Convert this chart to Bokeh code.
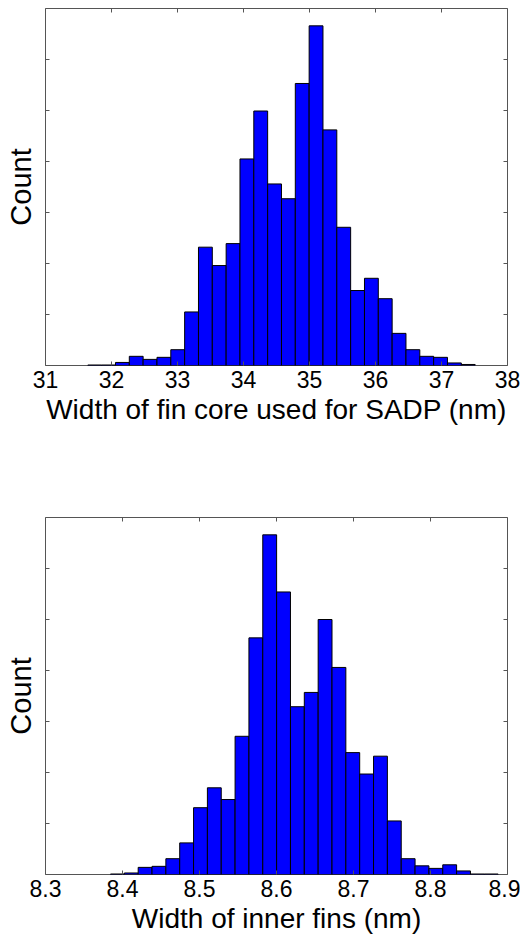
import math
from bokeh.plotting import figure
from bokeh.layouts import column
from bokeh.models import FixedTicker, Range1d
from bokeh.embed import file_html
from bokeh.resources import INLINE

# ---- data: panel 1 (width of fin core used for SADP) ----
core_bin_start = 31.641
core_bin_width = 0.2096
core_counts = [1, 1, 6, 18, 12, 16, 31, 105, 232, 196, 239, 405, 499, 356,
               327, 553, 666, 462, 271, 147, 171, 131, 63, 31, 18, 16, 5, 2]
core_xticks = [31, 32, 33, 34, 35, 36, 37, 38]
core_xtick_labels = ["31", "32", "33", "34", "35", "36", "37", "38"]

# ---- data: panel 2 (width of inner fins) ----
inner_bin_start = 8.3844
inner_bin_width = 0.01798
inner_counts = [1, 3, 14, 16, 31, 62, 131, 170, 147, 271, 464, 666, 554, 329,
                357, 500, 406, 239, 197, 232, 105, 31, 17, 12, 19, 7, 1, 1]
inner_xticks = [8.3, 8.4, 8.5, 8.6, 8.7, 8.8, 8.9]
inner_xtick_labels = ["8.3", "8.4", "8.5", "8.6", "8.7", "8.8", "8.9"]

yticks = [0, 100, 200, 300, 400, 500, 600, 700]
y_max = 700

FONT = "Liberation Sans"
FRAME = "#555555"


def make_hist(bin_start, bin_width, counts, xr, xticks, xlabels, xtitle,
              height, top_border, bottom_border):
    left = [bin_start + i * bin_width for i in range(len(counts))]
    right = [bin_start + (i + 1) * bin_width for i in range(len(counts))]
    p = figure(width=520, height=height, x_range=Range1d(*xr),
               y_range=Range1d(0, y_max), output_backend="svg",
               toolbar_location=None, min_border_left=45,
               min_border_right=13, min_border_top=top_border,
               min_border_bottom=bottom_border)
    p.grid.visible = False
    p.outline_line_color = FRAME
    p.outline_line_width = 1
    p.quad(left=left, right=right, bottom=0, top=counts,
           fill_color="#0000ff", line_color="black", line_width=1)

    # inward tick marks on top, left and right edges (clipped to the frame)
    p.scatter(x=xticks, y=[y_max] * len(xticks), marker="dash", size=8,
              angle=math.pi / 2, line_color=FRAME, line_width=1)
    p.scatter(x=[xr[0]] * len(yticks), y=yticks, marker="dash", size=8,
              line_color=FRAME, line_width=1)
    p.scatter(x=[xr[1]] * len(yticks), y=yticks, marker="dash", size=8,
              line_color=FRAME, line_width=1)

    xa = p.xaxis[0]
    xa.ticker = FixedTicker(ticks=xticks)
    xa.major_label_overrides = {t: l for t, l in zip(xticks, xlabels)}
    xa.major_tick_in = 4
    xa.major_tick_out = 0
    xa.major_tick_line_color = FRAME
    xa.minor_tick_line_color = None
    xa.axis_line_color = None
    xa.major_label_text_font = FONT
    xa.major_label_text_font_size = "23px"
    xa.major_label_text_color = "black"
    xa.major_label_standoff = 5
    xa.axis_label = xtitle
    xa.axis_label_text_font = FONT
    xa.axis_label_text_font_size = "28px"
    xa.axis_label_text_font_style = "normal"
    xa.axis_label_text_color = "black"
    xa.axis_label_standoff = 3

    ya = p.yaxis[0]
    ya.ticker = FixedTicker(ticks=[])
    ya.major_tick_line_color = None
    ya.minor_tick_line_color = None
    ya.axis_line_color = None
    ya.major_label_standoff = 0
    ya.axis_label = "Count"
    ya.axis_label_text_font = FONT
    ya.axis_label_text_font_size = "29px"
    ya.axis_label_text_font_style = "normal"
    ya.axis_label_text_color = "black"
    ya.axis_label_standoff = 9
    return p


p1 = make_hist(core_bin_start, core_bin_width, core_counts, (31, 38),
               core_xticks, core_xtick_labels,
               "Width of fin core used for SADP (nm)", 445, 8, 80)
p2 = make_hist(inner_bin_start, inner_bin_width, inner_counts, (8.3, 8.9),
               inner_xticks, inner_xtick_labels,
               "Width of inner fins (nm)", 493, 72, 64)

layout = column(p1, p2, spacing=0)
open("out.html", "w").write(file_html(layout, INLINE))
